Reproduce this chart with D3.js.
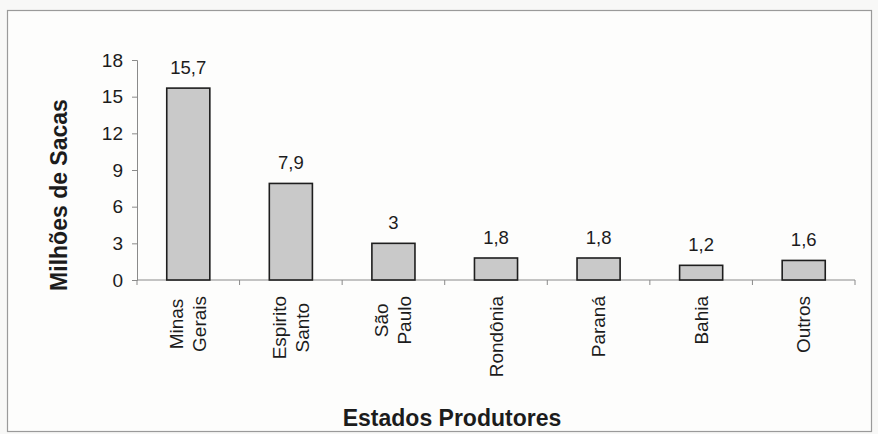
<!DOCTYPE html>
<html>
<head>
<meta charset="utf-8">
<script src="https://cdn.jsdelivr.net/npm/d3@7"></script>
<style>
  body { margin: 0; background: #f8f8f7; }
  svg text { font-family: "Liberation Sans", Arial, sans-serif; fill: #1c1c1c; }
</style>
</head>
<body>
<svg id="chart" width="878" height="434"></svg>
<script>
// categories (line breaks as in the original labels)
const estados = [
    ["Minas", "Gerais"],
    ["Espirito", "Santo"],
    ["São", "Paulo"],
    ["Rondônia"],
    ["Paraná"],
    ["Bahia"],
    ["Outros"]
];
// production, millions of bags
const sacas = [15.7, 7.9, 3, 1.8, 1.8, 1.2, 1.6];
const valueLabels = ["15,7", "7,9", "3", "1,8", "1,8", "1,2", "1,6"];
const yTicks = [0, 3, 6, 9, 12, 15, 18];

let svg = d3.select("#chart");

// outer frame
svg.append("rect")
   .attr("x", 7.5).attr("y", 10.5)
   .attr("width", 864).attr("height", 421)
   .attr("fill", "#fdfdfc")
   .attr("stroke", "#9a9a9a")
   .attr("stroke-width", 1.2);

let plotLeft = 137, plotRight = 855, plotTop = 60, plotBottom = 280;
let names = estados.map(d => d.join(" "));

// scales
let x = d3.scaleBand()
          .domain(names)
          .range([plotLeft, plotRight])
          .paddingInner(0.58)
          .paddingOuter(0.29);
let xOuter = d3.scaleBand()
               .domain(names)
               .range([plotLeft, plotRight])
               .padding(0);
let y = d3.scaleLinear()
          .domain([0, 18])
          .range([plotBottom, plotTop]);

// y axis
let yAxis = svg.append("g")
               .attr("transform", `translate(${plotLeft},0)`)
               .call(d3.axisLeft(y).tickValues(yTicks).tickSize(5).tickPadding(9));
yAxis.selectAll("path, line").attr("stroke", "#8a8a8a");
yAxis.selectAll("text")
     .style("font-size", "19px")
     .style("font-family", "'Liberation Sans', Arial, sans-serif")
     .attr("fill", "#1c1c1c");

// x axis line with ticks on the category boundaries
svg.append("line")
   .attr("x1", plotLeft).attr("x2", plotRight)
   .attr("y1", y(0)).attr("y2", y(0))
   .attr("stroke", "#8a8a8a");
let bounds = names.map(n => xOuter(n)).concat([plotRight]);
svg.selectAll(".xtick")
   .data(bounds)
   .enter()
   .append("line")
   .attr("x1", d => d).attr("x2", d => d)
   .attr("y1", y(0)).attr("y2", y(0) + 5)
   .attr("stroke", "#8a8a8a");

// bars
svg.selectAll(".bar")
   .data(sacas)
   .enter()
   .append("rect")
   .attr("x", (d, i) => x(names[i]))
   .attr("y", d => y(d))
   .attr("width", x.bandwidth())
   .attr("height", d => y(0) - y(d))
   .attr("fill", "#c9c9c9")
   .attr("stroke", "#1e1e1e")
   .attr("stroke-width", 1.6);

// value labels
svg.selectAll(".val")
   .data(sacas)
   .enter()
   .append("text")
   .attr("x", (d, i) => x(names[i]) + x.bandwidth() / 2)
   .attr("y", d => y(d) - 14)
   .attr("text-anchor", "middle")
   .style("font-size", "18.5px")
   .text((d, i) => valueLabels[i]);

// rotated category labels, lines centred on each other
let labelTop = 296, lineGap = 23;
estados.forEach(function(lines, i) {
    let cx = xOuter(names[i]) + xOuter.bandwidth() / 2;
    let g = svg.append("g");
    let texts = lines.map(function(t, j) {
        let base = cx + 6.5 - (lines.length - 1) * lineGap / 2 + j * lineGap;
        return g.append("text")
                .attr("text-anchor", "middle")
                .style("font-size", "19px")
                .attr("data-x", base)
                .text(t);
    });
    let maxW = d3.max(texts, t => t.node().getComputedTextLength());
    let cy = labelTop + maxW / 2;
    texts.forEach(t => t.attr("transform", `translate(${t.attr("data-x")},${cy}) rotate(-90)`));
});

// axis titles
svg.append("text")
   .attr("transform", "translate(67,195) rotate(-90)")
   .attr("text-anchor", "middle")
   .style("font-size", "23px")
   .style("font-weight", "bold")
   .text("Milhões de Sacas");

svg.append("text")
   .attr("x", 452)
   .attr("y", 426)
   .attr("text-anchor", "middle")
   .style("font-size", "23px")
   .style("font-weight", "bold")
   .text("Estados Produtores");
</script>
</body>
</html>
